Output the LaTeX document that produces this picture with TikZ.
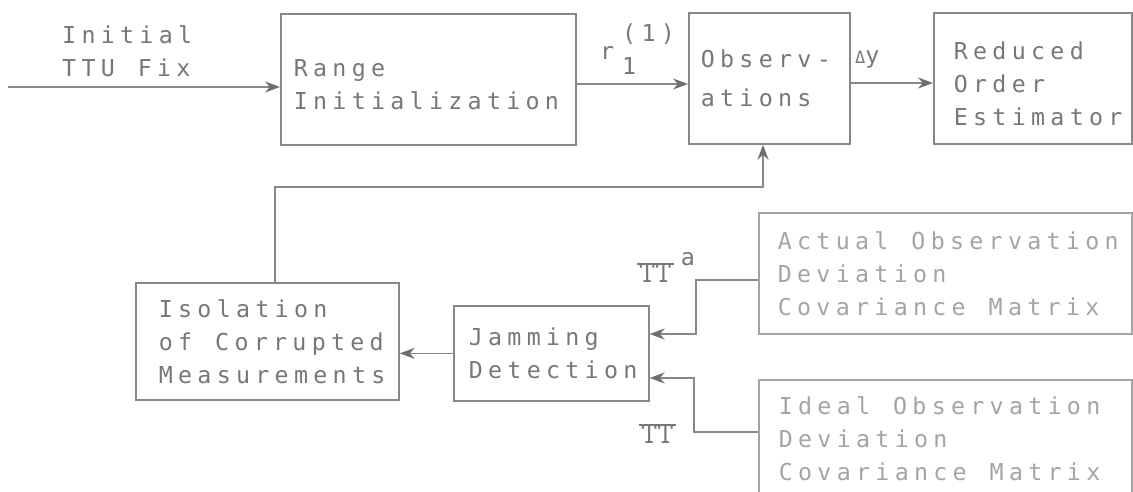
\documentclass[tikz,border=0pt]{standalone}
\usepackage{fontspec}
\usepackage{tikz}
\usetikzlibrary{arrows.meta}
\setmonofont{DejaVu Sans Mono}[LetterSpace=22.7]
\newfontfamily\pifont{lmmono10-regular.otf}
\newcommand{\wsp}{\nobreak\hspace{23pt}\nobreak}

\definecolor{inkgray}{HTML}{777777}
\definecolor{linegray}{HTML}{888888}
\definecolor{tipgray}{HTML}{6E6E6E}
\definecolor{palegray}{HTML}{A4A4A4}

\tikzset{
	blk/.style={draw=linegray, line width=1.7pt, text=inkgray, align=left,
		anchor=north west, inner ysep=0pt,
		font=\ttfamily\fontsize{23.3}{33}\selectfont},
	paleblk/.style={blk, draw=palegray, text=palegray},
	lbl/.style={text=inkgray, inner sep=0pt, font=\ttfamily\fontsize{23.3}{33}\selectfont},
	pilbl/.style={text=inkgray, inner sep=0pt, font=\pifont\fontsize{31}{31}\selectfont},
	link/.style={-{Stealth[length=15pt,width=11pt,color=tipgray]}, draw=linegray, line width=1.7pt}
}

\begin{document}
\begin{tikzpicture}[x=1pt, y=-1pt]

	\useasboundingbox (0,0) rectangle (1133,492);
	\clip (0,0) rectangle (1133,492);

	% top row
	\node [blk, minimum width=295, minimum height=131, inner xsep=13pt, text width=269pt] (range) at (280,13)
		{\rule{0pt}{28pt}Range\\Initialization};
	\node [blk, minimum width=161, minimum height=131, inner xsep=12pt, text width=137pt] (obs) at (688,12)
		{Observ-\\[6pt]ations};
	\node [blk, minimum width=198, minimum height=131, inner xsep=20pt, text width=158pt] (roe) at (933,12)
		{\rule{0pt}{28.7pt}Reduced\\Order\\Estimator};

	% bottom row
	\node [blk, minimum width=263, minimum height=117, inner xsep=23pt, text width=217pt] (iso) at (135,282)
		{Isolation\\of\wsp Corrupted\\Measurements};
	\node [blk, minimum width=195, minimum height=95, inner xsep=15pt, text width=165pt] (jam) at (453,305)
		{Jamming\\Detection};
	\node [paleblk, minimum width=373, minimum height=121, inner xsep=19pt, text width=335pt] (act) at (758,212)
		{Actual\wsp Observation\\Deviation\\Covariance\wsp Matrix};
	\node [paleblk, minimum width=373, minimum height=117, inner xsep=20pt, text width=333pt] (ide) at (758,379)
		{Ideal\wsp Observation\\Deviation\\Covariance\wsp Matrix};

	% labels
	\node [lbl, anchor=south west, align=left] (fixlbl) at (62,77) {Initial\\TTU\wsp Fix};
	\node [lbl, anchor=base west] (rlbl) at (600,60) {r\hspace{8pt}\rlap{\raisebox{-15pt}{1}}\raisebox{18pt}{(1)}};
	\node [lbl, anchor=base west] (dylbl) at (855,64) {{\fontsize{17}{17}\selectfont Δ}y};
	\node [pilbl, anchor=base west] (pia) at (639,282) {\rlap{\hspace{-2pt}\rule[17.5pt]{37pt}{1.4pt}}TT};
	\node [lbl] (pialbl) at (688,259) {a};
	\node [pilbl, anchor=base west] (pii) at (641,443) {\rlap{\hspace{-2pt}\rule[17.5pt]{37pt}{1.4pt}}TT};

	% connectors
	\coordinate (fix) at (8,87);
	\draw [link] (fix) -- (fix -| range.west);
	\draw [link] (range.east |- 0,84) -- (obs.west |- 0,84);
	\draw [link] (obs.east |- 0,83) -- (roe.west |- 0,83);

	\coordinate (fbl) at (275,187);
	\coordinate (fbr) at (763,187);
	\draw [link] (iso.north -| fbl) -- (fbl) -- (fbr) -- (obs.south -| fbr);

	\draw [link] (jam.west) -- (iso.east |- jam.west);
	\draw [link] (act.west |- 0,280) -| (696,334) -- (jam.east |- 0,334);
	\draw [link] (ide.west |- 0,432) -| (694,378) -- (jam.east |- 0,378);

\end{tikzpicture}
\end{document}
